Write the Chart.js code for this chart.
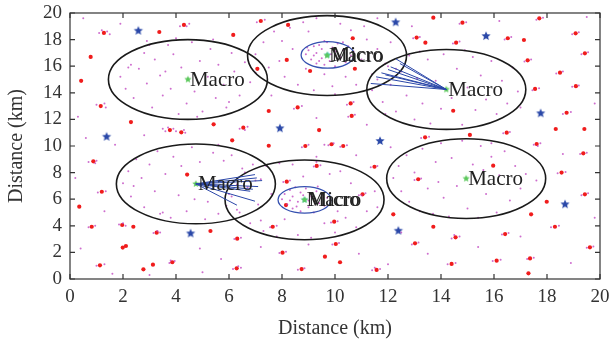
<!DOCTYPE html>
<html><head><meta charset="utf-8">
<script src="https://cdn.jsdelivr.net/npm/chart.js@4/dist/chart.umd.min.js"></script>
<style>html,body{margin:0;padding:0;background:#fff}#wrap{width:611px;height:344px}</style>
</head><body><div id="wrap"><canvas id="c" width="611" height="344"></canvas></div>
<script>
// ---- axis ticks ----
const xTicks = [0,2,4,6,8,10,12,14,16,18,20];
const yTicks = [0,2,4,6,8,10,12,14,16,18,20];

// ---- macro cells: centres (km), radius 3 km ----
const macroCenters = [[4.45,15.0],[9.7,16.8],[14.2,14.25],[4.75,7.15],[8.85,5.95],[14.95,7.55]];
const macroRadius = 3;
// ---- micro cells: centres, radius 1 km ----
const microCenters = [[9.72,16.85],[8.85,5.95]];
const microRadius = 1;

// ---- links from macro BS to served users ----
const linkSources = [[14.2,14.25],[4.75,7.15]];
const linkEnds = [
  [[12.3,16.55],[12.45,16.2],[12.1,15.95],[12.0,15.75],[11.75,15.5],[11.55,15.2],[11.9,15.35],[11.35,14.7]],
  [[6.98,7.85],[7.25,7.4],[7.1,6.95],[6.9,6.75],[6.98,5.85],[6.3,5.55],[7.05,7.6],[6.8,6.6]]
];

// ---- small cells (red) ----
const smallCells = [[1.28,18.5],[3.37,18.57],[4.3,19.1],[6.16,18.35],[7.2,19.4],[0.78,16.7],[0.42,14.9],[1.16,13.0],[2.3,11.8],[3.77,11.2],[4.2,11.03],[5.42,11.63],[6.54,11.38],[6.12,10.43],[7.5,12.63],[7.5,10.02],[7.07,15.8],[8.18,16.47],[8.23,19.1],[8.59,12.9],[8.88,10.0],[0.88,8.85],[4.42,7.85],
[13.71,19.65],[14.81,19.27],[17.71,19.6],[19.08,18.47],[13.08,18.15],[13.41,17.77],[14.57,17.77],[16.52,18.1],[17.13,17.97],[10.67,18.1],[9.06,15.64],[10.75,15.81],[19.43,16.97],[17.27,16.44],[18.49,15.51],[19.09,14.5],[17.55,14.29],[14.46,12.65],[10.59,13.2],[10.63,12.26],[18.74,12.5],[18.33,11.28],[19.41,11.28],[16.48,11.0],[15.09,10.83],[13.4,10.65],[9.4,11.2],[9.87,10.13],[10.31,10.0],[17.61,10.15],[19.37,9.45],[15.97,8.52],[18.55,8.0],[9.31,8.5],[11.49,8.44],[13.14,7.5],
[0.35,5.44],[1.2,6.56],[0.82,3.93],[1.97,4.06],[2.39,3.93],[3.27,3.48],[5.3,3.61],[6.31,3.03],[1.99,2.36],[2.11,2.48],[1.13,1.03],[2.77,0.73],[3.13,1.08],[3.86,1.26],[6.29,0.8],[7.65,3.93],[8.02,1.98],[8.74,0.75],[8.18,7.32],[8.15,5.56],
[11.04,6.37],[19.43,6.37],[17.99,5.81],[12.2,4.86],[17.4,4.86],[13.71,3.93],[16.42,3.38],[18.3,3.93],[14.55,3.13],[9.97,4.31],[10.03,2.63],[13.02,2.68],[19.62,2.38],[9.62,1.68],[10.19,1.26],[14.4,1.13],[16.1,1.38],[17.36,1.55],[17.3,0.43],[11.57,0.68]];

// ---- other BS (blue stars) ----
const blueStars = [[2.58,18.67],[1.38,10.7],[7.92,11.33],[12.29,19.3],[15.7,18.27],[17.76,12.46],[11.7,10.38],[4.55,3.43],[18.68,5.62],[12.39,3.63]];

// ---- users (purple) ----
const usersMacro = [
[1.9,15.2],[2.1,14.3],[2.3,16.1],[2.4,13.6],[2.6,15.8],[2.8,17.0],[2.9,14.7],[3.1,12.9],[3.2,16.5],[3.4,15.3],[3.5,13.8],[3.7,17.6],[3.8,14.3],[3.9,16.9],[4.1,12.4],[4.2,15.9],[4.4,13.2],[4.6,17.8],[4.7,14.1],[4.9,16.4],[5.0,12.6],[5.2,15.2],[5.3,17.3],[5.5,13.6],[5.6,16.1],[5.8,14.6],[5.9,12.9],[6.1,17.0],[6.2,15.6],[6.4,13.8],[6.6,16.3],[6.8,14.8],[7.0,15.5],[6.0,13.3],[3.0,17.6],[4.0,18.1],[5.4,18.0],[2.2,15.9],[4.8,12.2],[3.6,15.6],
[7.0,16.9],[7.3,17.8],[7.5,15.9],[7.7,18.6],[7.9,16.4],[8.1,15.2],[8.3,18.9],[8.4,17.3],[8.6,14.6],[8.8,19.3],[8.9,15.8],[9.2,14.2],[9.3,19.6],[9.6,15.4],[9.9,14.5],[10.2,19.2],[10.4,15.2],[10.6,18.7],[10.8,14.6],[11.0,16.5],[11.2,18.0],[11.4,15.4],[11.6,17.3],[11.9,16.2],[12.1,17.8],[12.3,15.8],[10.0,13.9],[9.0,18.6],[11.1,19.0],[8.0,17.9],
[11.4,14.2],[11.6,15.0],[11.8,13.3],[12.0,16.0],[12.1,14.6],[12.3,12.6],[12.5,15.6],[12.7,13.8],[12.8,16.8],[13.0,12.0],[13.1,15.1],[13.3,13.2],[13.5,16.5],[13.6,11.7],[13.8,14.9],[14.0,12.8],[14.1,16.9],[14.4,13.6],[14.6,15.8],[14.8,11.6],[15.0,14.4],[15.2,16.7],[15.3,12.7],[15.5,15.3],[15.7,13.5],[15.9,16.4],[16.1,12.4],[16.3,14.9],[16.5,13.2],[16.7,15.9],[16.9,14.1],[17.0,12.9],[13.2,17.1],[14.9,17.2],
[2.0,7.2],[2.2,8.1],[2.3,6.2],[2.5,9.0],[2.7,7.6],[2.8,5.4],[3.0,8.6],[3.2,6.6],[3.3,9.6],[3.5,5.0],[3.6,7.9],[3.8,4.6],[3.9,9.2],[4.1,6.3],[4.2,8.5],[4.4,5.1],[4.6,9.9],[4.7,6.0],[4.9,8.8],[5.1,4.5],[5.2,5.8],[5.4,9.5],[5.6,4.9],[5.8,8.9],[6.0,6.4],[6.1,9.3],[6.3,5.2],[6.5,8.3],[6.7,6.9],[6.9,8.6],[7.2,7.5],[2.4,7.0],[3.4,4.9],[5.9,5.5],
[6.1,6.2],[6.3,7.1],[6.4,5.0],[6.6,8.0],[6.8,4.2],[7.0,7.4],[7.1,5.6],[7.3,3.6],[7.4,8.5],[7.6,6.4],[7.8,3.2],[7.9,8.7],[8.1,4.5],[8.4,8.6],[8.6,3.3],[8.8,7.7],[9.1,3.1],[9.3,8.8],[9.6,4.2],[9.8,7.9],[10.0,3.5],[10.2,8.1],[10.4,4.6],[10.6,7.2],[10.8,3.9],[11.0,6.3],[11.2,5.1],[11.5,6.6],[11.6,5.4],[7.2,4.4],[10.1,5.1],
[12.2,7.6],[12.4,8.5],[12.5,6.6],[12.7,9.3],[12.8,5.8],[13.0,8.0],[13.2,5.1],[13.3,9.8],[13.5,6.8],[13.7,4.9],[13.8,8.8],[14.0,10.2],[14.1,6.1],[14.3,4.7],[14.4,9.1],[14.6,7.0],[14.8,10.4],[15.0,5.3],[15.2,8.6],[15.4,4.6],[15.5,10.0],[15.7,6.4],[15.9,9.2],[16.1,5.0],[16.2,7.8],[16.4,9.6],[16.6,5.9],[16.8,8.5],[17.0,6.8],[17.2,7.9],[17.6,7.4],[13.9,7.3],[15.6,8.2]];
const usersMicro = [
[8.9,16.9],[9.0,17.2],[9.1,16.5],[9.2,17.5],[9.3,16.2],[9.3,17.0],[9.4,17.6],[9.5,16.6],[9.5,17.3],[9.6,16.1],[9.7,17.8],[9.8,16.4],[9.9,17.4],[10.0,16.0],[10.1,17.7],[10.2,16.7],[10.3,17.2],[10.4,16.3],[10.5,17.5],[10.6,16.8],[9.4,16.4],[9.2,16.8],[10.0,17.1],[10.3,17.8],[9.6,17.9],[10.7,17.1],[8.95,17.4],[9.85,16.9],
[8.0,6.0],[8.1,6.4],[8.2,5.6],[8.3,6.7],[8.4,5.3],[8.4,6.2],[8.5,6.9],[8.6,5.8],[8.7,5.1],[8.7,6.5],[8.9,6.8],[9.0,5.4],[9.1,6.2],[9.2,5.0],[9.3,6.6],[9.4,5.7],[9.5,6.3],[9.6,5.5],[9.7,6.1],[8.3,5.9],[8.8,6.3],[9.0,5.9],[8.55,5.45],[9.35,6.95]];
const usersSmall = [
[1.1,18.5],[1.4,18.6],[1.5,18.4],[1.2,18.7],[4.15,19.0],[4.5,19.2],[4.4,19.0],[7.05,19.3],[7.35,19.5],[1.0,13.1],[1.35,12.9],[1.3,13.2],
[3.6,11.1],[3.9,11.3],[3.7,11.4],[4.0,11.1],[3.5,11.3],[4.35,11.0],[4.3,11.2],[6.4,11.3],[6.7,11.45],[6.6,11.2],[8.45,12.8],[8.75,13.0],[8.75,9.9],[9.0,10.1],
[0.7,8.8],[1.0,8.9],[0.95,8.7],[12.95,18.1],[13.2,18.2],[14.45,17.7],[14.7,17.85],[14.7,19.2],[14.95,19.3],[16.4,18.0],[16.65,18.2],[17.6,19.5],[17.85,19.65],
[18.95,18.4],[19.2,18.55],[19.3,16.9],[19.55,17.05],[17.15,16.35],[17.4,16.5],[18.35,15.45],[18.6,15.6],[18.95,14.45],[19.2,14.55],[17.45,14.2],[17.7,14.35],
[10.45,13.1],[10.7,13.3],[10.5,12.2],[10.75,12.35],[18.6,12.4],[18.9,12.55],[16.35,10.95],[16.6,11.05],[13.25,10.6],[13.55,10.7],[9.75,10.05],[9.95,10.2],[9.6,10.1],
[10.2,9.95],[10.45,10.05],[17.5,10.1],[17.75,10.2],[17.65,10.0],[19.25,9.4],[19.5,9.5],[18.4,7.95],[18.7,8.05],[9.2,8.45],[9.45,8.55],[11.35,8.4],[11.6,8.5],[13.0,7.45],[13.25,7.55],
[1.05,6.5],[1.35,6.6],[0.7,3.9],[0.95,4.0],[1.85,4.1],[2.1,4.0],[2.0,4.2],[3.15,3.45],[3.4,3.5],[3.3,3.6],[6.2,3.0],[6.45,3.1],[1.0,1.0],[1.3,1.1],
[3.75,1.2],[3.95,1.35],[3.8,1.4],[6.15,0.75],[6.45,0.85],[6.35,0.95],[7.55,3.9],[7.8,4.0],[7.9,1.95],[8.15,2.05],[8.6,0.7],[8.85,0.8],[8.05,7.3],[8.3,7.4],
[10.9,6.3],[11.15,6.45],[19.3,6.3],[19.55,6.45],[18.15,3.9],[18.45,4.0],[16.3,3.35],[16.55,3.45],[14.4,3.05],[14.7,3.2],[14.5,3.3],[12.9,2.6],[13.15,2.75],
[9.9,2.6],[10.15,2.7],[9.85,4.25],[10.1,4.35],[19.5,2.35],[19.75,2.45],[14.25,1.1],[14.55,1.2],[15.95,1.35],[16.25,1.45],[17.25,1.5],[17.5,1.6],[11.4,0.65],[11.7,0.75],[11.5,0.85]];
const usersScattered = [[0.5,19.6],[1.9,19.2],[2.9,17.9],[0.3,12.2],[0.6,10.6],[1.7,10.1],[2.8,10.8],[5.6,10.1],[7.6,13.8],[9.3,12.1],[11.2,11.6],[12.1,9.9],[10.8,9.3],[1.3,5.1],[0.4,2.3],[1.6,0.4],[4.9,2.3],[5.7,1.5],[7.2,2.4],[9.0,2.6],[10.9,1.9],[12.5,3.5],[13.5,1.9],[15.4,2.4],[17.0,3.2],[18.9,1.2],[19.8,4.6],[18.6,9.4],[19.8,13.2],[16.2,19.4],[11.6,19.6],[12.9,19.0],[19.5,19.7],[9.3,9.2],[3.0,0.3],[5.0,0.5],[15.9,10.2],[11.9,12.4],[0.2,7.6],[12.0,1.1]];

const labelsMacro = ["Macro","Macro","Macro","Macro","Macro","Macro"];
const labelsMicro = ["Micro","Micro"];

// ---- helpers ----
const toXY = a => a.map(p => ({x:p[0], y:p[1]}));
function makeStar(r, color){
  const c = document.createElement('canvas');
  const s = Math.ceil(2*r+2); c.width = s; c.height = s;
  const g = c.getContext('2d');
  g.translate(s/2, s/2);
  g.beginPath();
  for (let i=0;i<10;i++){
    const rr = i%2===0 ? r : r*0.45;
    const a = -Math.PI/2 + i*Math.PI/5;
    const px = rr*Math.cos(a), py = rr*Math.sin(a);
    if(i===0) g.moveTo(px,py); else g.lineTo(px,py);
  }
  g.closePath(); g.fillStyle = color; g.fill();
  return c;
}
const SERIF = "'Liberation Serif','DejaVu Serif',serif";

const overlay = {
  id:'overlay',
  afterDatasetsDraw(chart){
    const {ctx, chartArea:a, scales:{x, y}} = chart;
    ctx.save();
    ctx.lineWidth = 1.6; ctx.strokeStyle = '#1a1a1a';
    macroCenters.forEach(c => {
      const cx = x.getPixelForValue(c[0]), cy = y.getPixelForValue(c[1]);
      const rx = x.getPixelForValue(c[0]+macroRadius) - cx;
      const ry = cy - y.getPixelForValue(c[1]+macroRadius);
      ctx.beginPath(); ctx.ellipse(cx, cy, rx, ry, 0, 0, 2*Math.PI); ctx.stroke();
    });
    ctx.lineWidth = 1.3; ctx.strokeStyle = '#3550b0';
    microCenters.forEach(c => {
      const cx = x.getPixelForValue(c[0]), cy = y.getPixelForValue(c[1]);
      const rx = x.getPixelForValue(c[0]+microRadius) - cx;
      const ry = cy - y.getPixelForValue(c[1]+microRadius);
      ctx.beginPath(); ctx.ellipse(cx, cy, rx, ry, 0, 0, 2*Math.PI); ctx.stroke();
    });
    ctx.lineWidth = 1; ctx.strokeStyle = '#2a46a8';
    linkSources.forEach((s, i) => {
      const sx = x.getPixelForValue(s[0]), sy = y.getPixelForValue(s[1]);
      linkEnds[i].forEach(e => {
        ctx.beginPath(); ctx.moveTo(sx, sy);
        ctx.lineTo(x.getPixelForValue(e[0]), y.getPixelForValue(e[1])); ctx.stroke();
      });
    });
    ctx.restore();
  },
  afterDraw(chart){
    const {ctx, chartArea:a, scales:{x, y}} = chart;
    ctx.save();
    ctx.font = "21px " + SERIF; ctx.fillStyle = '#222'; ctx.textBaseline = 'middle'; ctx.textAlign = 'left';
    macroCenters.forEach((c,i) => {
      ctx.fillText(labelsMacro[i], x.getPixelForValue(c[0]) + 2, y.getPixelForValue(c[1]) + 1);
    });
    microCenters.forEach((c,i) => {
      ctx.fillText(labelsMicro[i], x.getPixelForValue(c[0]) + 4, y.getPixelForValue(c[1]) + 1);
    });
    ctx.strokeStyle = '#333'; ctx.lineWidth = 1.2;
    ctx.strokeRect(a.left, a.top, a.right - a.left, a.bottom - a.top);
    const tl = 5;
    ctx.beginPath();
    xTicks.forEach(v => {
      const px = x.getPixelForValue(v);
      ctx.moveTo(px, a.bottom); ctx.lineTo(px, a.bottom - tl);
      ctx.moveTo(px, a.top); ctx.lineTo(px, a.top + tl);
    });
    yTicks.forEach(v => {
      const py = y.getPixelForValue(v);
      ctx.moveTo(a.left, py); ctx.lineTo(a.left + tl, py);
      ctx.moveTo(a.right, py); ctx.lineTo(a.right - tl, py);
    });
    ctx.stroke();
    ctx.restore();
  }
};

const userColor = 'rgba(190,60,190,0.75)';
new Chart(document.getElementById('c'), {
  type: 'scatter',
  data: {
    datasets: [
      {data: toXY(usersMacro), pointRadius: 1, backgroundColor: userColor, borderWidth: 0},
      {data: toXY(usersMicro), pointRadius: 1, backgroundColor: userColor, borderWidth: 0},
      {data: toXY(usersSmall), pointRadius: 1, backgroundColor: userColor, borderWidth: 0},
      {data: toXY(usersScattered), pointRadius: 1, backgroundColor: userColor, borderWidth: 0},
      {data: toXY(smallCells), pointRadius: 2.1, backgroundColor: '#f01c1c', borderWidth: 0},
      {data: toXY(blueStars), pointStyle: makeStar(4.8, '#2a48a8'), pointRadius: 5},
      {data: toXY(macroCenters), pointStyle: makeStar(3.8, '#5cc85c'), pointRadius: 4},
      {data: toXY(microCenters), pointStyle: makeStar(3.8, '#50c8c8'), pointRadius: 4}
    ]
  },
  options: {
    responsive: false, animation: false,
    layout: {padding: {left: 0, right: 11, top: 13, bottom: 0}},
    plugins: {legend: {display: false}, tooltip: {enabled: false}},
    scales: {
      x: {
        type: 'linear', min: 0, max: 20,
        afterBuildTicks: s => { s.ticks = xTicks.map(v => ({value: v})); },
        afterFit: s => { s.height = 65; s.paddingLeft = 0; s.paddingRight = 0; },
        grid: {display: true, drawOnChartArea: false, drawTicks: false},
        border: {display: false},
        ticks: {padding: 7, color: '#333', font: {family: SERIF, size: 19}, maxRotation: 0},
        title: {display: true, text: 'Distance (km)', color: '#333', font: {family: SERIF, size: 20}, padding: {top: 0, bottom: 3}}
      },
      y: {
        type: 'linear', min: 0, max: 20,
        afterBuildTicks: s => { s.ticks = yTicks.map(v => ({value: v})); },
        afterFit: s => { s.width = 70; s.paddingTop = 0; s.paddingBottom = 0; },
        grid: {display: true, drawOnChartArea: false, drawTicks: false},
        border: {display: false},
        ticks: {padding: 8, color: '#333', font: {family: SERIF, size: 19}},
        title: {display: true, text: 'Distance (km)', color: '#333', font: {family: SERIF, size: 20}, padding: {top: 5, bottom: 0}}
      }
    }
  },
  plugins: [overlay]
});
</script>
</body></html>
